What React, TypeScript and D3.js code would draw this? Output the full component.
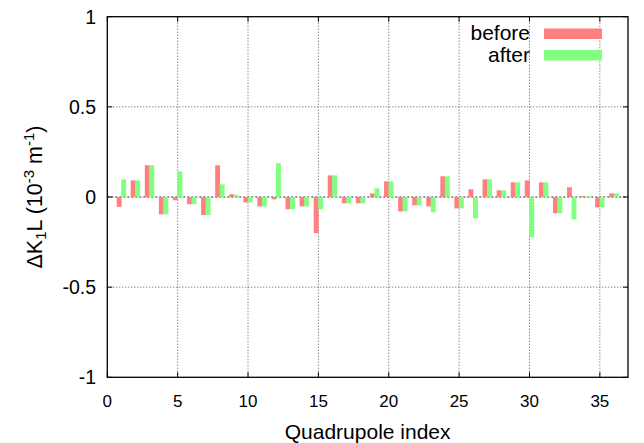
import React from "react";
import * as d3 from "d3";

const indices = Array.from({ length: 36 }, (_, i) => i + 1);
const before = [
  -0.055, 0.092, 0.176, -0.096, -0.018, -0.04, -0.1, 0.176, 0.015, -0.03, -0.052, -0.013,
  -0.068, -0.052, -0.2, 0.12, -0.035, -0.035, 0.02, 0.087, -0.08, -0.046, -0.052, 0.115,
  -0.063, 0.043, 0.098, 0.037, 0.081, 0.092, 0.081, -0.09, 0.054, 0.005, -0.057, 0.02,
];
const after = [
  0.098, 0.092, 0.176, -0.096, 0.142, -0.04, -0.1, 0.07, 0.012, -0.03, -0.052, 0.187,
  -0.068, -0.052, -0.068, 0.12, -0.035, -0.035, 0.048, 0.087, -0.08, -0.046, -0.085, 0.115,
  -0.063, -0.118, 0.098, 0.037, 0.081, -0.224, 0.081, -0.09, -0.124, 0.005, -0.057, 0.02,
];
const xTicks = [0, 5, 10, 15, 20, 25, 30, 35];
const yTicks = [-1, -0.5, 0, 0.5, 1];
const yTickLabels = ["-1", "-0.5", "0", "0.5", "1"];
const seriesNames = ["before", "after"];
const colors = ["#ff8080", "#80ff80"];

const W = 644, H = 443;
const L = 107.3, R = 628, T = 16.7, B = 377.3;
const FONT = "'Liberation Sans', Arial, Helvetica, sans-serif";

export default function App() {
  const x = d3.scaleLinear().domain([0, 37]).range([L, R]);
  const y = d3.scaleLinear().domain([-1, 1]).range([B, T]);
  const bw = 0.35;
  const offs = [-0.16, 0.16];
  const series = [before, after];
  const tick = 5;

  return (
    <div style={{ position: "absolute", left: 0, top: 0 }}>
      <svg width={W} height={H} style={{ display: "block", background: "#fff" }} fontFamily={FONT}>
        {/* grid */}
        {xTicks.filter((t) => t > 0).map((t) => (
          <line key={"gx" + t} x1={x(t)} x2={x(t)} y1={T} y2={B} stroke="#555" strokeWidth={1} strokeDasharray="1,2" />
        ))}
        {yTicks.filter((t) => t > -1 && t < 1).map((t) => (
          <line key={"gy" + t} x1={L} x2={R} y1={y(t)} y2={y(t)} stroke={t === 0 ? "#222" : "#555"} strokeWidth={1} strokeDasharray={t === 0 ? "2,2" : "1,2"} />
        ))}
        {/* bars */}
        {series.map((vals, s) =>
          vals.map((v, i) => {
            const cx = indices[i] + offs[s];
            const x0 = x(cx - bw / 2);
            const x1 = x(cx + bw / 2);
            const y0 = y(Math.max(0, v));
            const y1 = y(Math.min(0, v));
            return <rect key={s + "-" + i} x={x0} y={y0} width={x1 - x0} height={Math.max(0.5, y1 - y0)} fill={colors[s]} />;
          })
        )}
        {/* ticks */}
        {xTicks.map((t) => (
          <g key={"tx" + t}>
            <line x1={x(t)} x2={x(t)} y1={B} y2={B - tick} stroke="#000" />
            <line x1={x(t)} x2={x(t)} y1={T} y2={T + tick} stroke="#000" />
            <text x={x(t)} y={406.5} textAnchor="middle" fontSize={17} fill="#000">{t}</text>
          </g>
        ))}
        {yTicks.map((t, i) => (
          <g key={"ty" + t}>
            <line x1={L} x2={L + tick} y1={y(t)} y2={y(t)} stroke="#000" />
            <line x1={R} x2={R - tick} y1={y(t)} y2={y(t)} stroke="#000" />
            <text x={96} y={y(t)} dy="0.36em" textAnchor="end" fontSize={19.5} fill="#000">{yTickLabels[i]}</text>
          </g>
        ))}
        {/* frame */}
        <rect x={L} y={T} width={R - L} height={B - T} fill="none" stroke="#000" strokeWidth={1.3} />
        {/* legend */}
        {seriesNames.map((n, i) => (
          <g key={n}>
            <text x={530} y={40 + i * 21.5} textAnchor="end" fontSize={21} fill="#000">{n}</text>
            <rect x={544} y={28.5 + i * 21.5} width={58} height={10.5} fill={colors[i]} />
          </g>
        ))}
        {/* axis labels */}
        <text x={(L + R) / 2} y={439} textAnchor="middle" fontSize={21} fill="#000">Quadrupole index</text>
        <text transform={`translate(42,${(T + B) / 2}) rotate(-90)`} textAnchor="middle" fontSize={21.5} fill="#000">
          ΔK<tspan fontSize={15} dy={4}>1</tspan><tspan dy={-4}>L (10</tspan><tspan fontSize={15} dy={-8}>-3</tspan><tspan dy={8}> m</tspan><tspan fontSize={15} dy={-8}>-1</tspan><tspan dy={8}>)</tspan>
        </text>
      </svg>
    </div>
  );
}
